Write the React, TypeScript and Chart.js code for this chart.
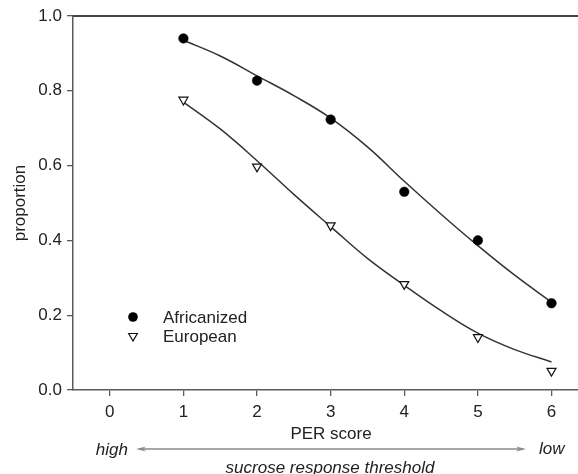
import React, { useEffect, useRef } from "react";
import { Chart, registerables } from "chart.js";

Chart.register(...registerables);

// ---- data ----
const perScores = [1, 2, 3, 4, 5, 6];
const africanized = [0.94, 0.827, 0.723, 0.53, 0.4, 0.232];
const european = [0.776, 0.597, 0.44, 0.283, 0.141, 0.051];

// fitted curves
const fitX = [1, 1.5, 2, 2.5, 3, 3.5, 4, 4.5, 5, 5.5, 6];
const africanizedFit = [0.935, 0.893, 0.84, 0.787, 0.727, 0.65, 0.558, 0.47, 0.386, 0.307, 0.235];
const europeanFit = [0.77, 0.698, 0.613, 0.523, 0.437, 0.352, 0.28, 0.212, 0.152, 0.108, 0.075];

const xTicks = [0, 1, 2, 3, 4, 5, 6];
const yTicks = [0, 0.2, 0.4, 0.6, 0.8, 1.0];
const seriesNames = ["Africanized", "European"];
const xTitle = "PER score";
const yTitle = "proportion";
const thresholdTitle = "sucrose response threshold";
const highLabel = "high";
const lowLabel = "low";

const FONT = "'Liberation Sans', Arial, Helvetica, sans-serif";
const TEXT = "#222";
const AXIS = "#5a5a5a";

function drawTriangleDown(ctx: CanvasRenderingContext2D, x: number, y: number, r: number) {
  ctx.beginPath();
  for (let i = 0; i < 3; i++) {
    const a = Math.PI + (i * 2 * Math.PI) / 3;
    const px = x + Math.sin(a) * r;
    const py = y - Math.cos(a) * r;
    if (i === 0) ctx.moveTo(px, py);
    else ctx.lineTo(px, py);
  }
  ctx.closePath();
  ctx.fillStyle = "#fff";
  ctx.fill();
  ctx.lineWidth = 1.2;
  ctx.strokeStyle = "#111";
  ctx.stroke();
}

const annotations = {
  id: "annotations",
  afterDraw(chart: any) {
    const ctx: CanvasRenderingContext2D = chart.ctx;
    const area = chart.chartArea;
    ctx.save();
    // top frame line
    ctx.strokeStyle = "#444";
    ctx.lineWidth = 2;
    ctx.beginPath();
    ctx.moveTo(area.left, area.top);
    ctx.lineTo(chart.width, area.top);
    ctx.stroke();

    ctx.fillStyle = TEXT;
    ctx.font = `17px ${FONT}`;
    // y title
    ctx.save();
    ctx.translate(20, 203);
    ctx.rotate(-Math.PI / 2);
    ctx.textAlign = "center";
    ctx.textBaseline = "middle";
    ctx.fillText(yTitle, 0, 0);
    ctx.restore();

    // x title
    ctx.textAlign = "center";
    ctx.textBaseline = "middle";
    ctx.fillText(xTitle, 331, 434);

    // high / low
    ctx.font = `italic 17px ${FONT}`;
    ctx.textAlign = "right";
    ctx.fillText(highLabel, 128, 450);
    ctx.textAlign = "left";
    ctx.fillText(lowLabel, 539, 449);

    // arrow
    ctx.strokeStyle = "#8a8a8a";
    ctx.fillStyle = "#8a8a8a";
    ctx.lineWidth = 1.3;
    const ay = 449;
    ctx.beginPath();
    ctx.moveTo(139, ay);
    ctx.lineTo(523, ay);
    ctx.stroke();
    ctx.beginPath();
    ctx.moveTo(136, ay);
    ctx.lineTo(146, ay - 2.5);
    ctx.lineTo(143, ay);
    ctx.lineTo(146, ay + 2.5);
    ctx.closePath();
    ctx.fill();
    ctx.beginPath();
    ctx.moveTo(526, ay);
    ctx.lineTo(516, ay - 2.5);
    ctx.lineTo(519, ay);
    ctx.lineTo(516, ay + 2.5);
    ctx.closePath();
    ctx.fill();

    // threshold title
    ctx.fillStyle = TEXT;
    ctx.textAlign = "center";
    ctx.textBaseline = "alphabetic";
    ctx.fillText(thresholdTitle, 330, 473);

    // legend
    ctx.font = `17px ${FONT}`;
    ctx.textAlign = "left";
    ctx.textBaseline = "middle";
    ctx.beginPath();
    ctx.arc(133, 317, 4.8, 0, Math.PI * 2);
    ctx.fillStyle = "#000";
    ctx.fill();
    drawTriangleDown(ctx, 133, 336, 5);
    ctx.fillStyle = TEXT;
    ctx.fillText(seriesNames[0], 163, 318);
    ctx.fillText(seriesNames[1], 163, 337);
    ctx.restore();
  },
};

export default function App() {
  const ref = useRef<HTMLCanvasElement | null>(null);
  useEffect(() => {
    if (!ref.current) return;
    const chart = new Chart(ref.current, {
      type: "scatter",
      data: {
        datasets: [
          {
            label: seriesNames[0],
            data: perScores.map((x, i) => ({ x, y: africanized[i] })),
            pointStyle: "circle",
            pointRadius: 4.8,
            backgroundColor: "#000",
            borderColor: "#000",
            borderWidth: 0.5,
            showLine: false,
          },
          {
            label: seriesNames[1],
            data: perScores.map((x, i) => ({ x, y: european[i] })),
            pointStyle: "triangle",
            pointRotation: 180,
            pointRadius: 5.2,
            backgroundColor: "#fff",
            borderColor: "#111",
            borderWidth: 1.2,
            showLine: false,
          },
          {
            label: "fitA",
            data: fitX.map((x, i) => ({ x, y: africanizedFit[i] })),
            showLine: true,
            pointRadius: 0,
            borderColor: "#333",
            borderWidth: 1.5,
            tension: 0.4,
          },
          {
            label: "fitE",
            data: fitX.map((x, i) => ({ x, y: europeanFit[i] })),
            showLine: true,
            pointRadius: 0,
            borderColor: "#333",
            borderWidth: 1.5,
            tension: 0.4,
          },
        ],
      },
      options: {
        animation: false,
        responsive: false,
        devicePixelRatio: 1,
        layout: { autoPadding: false, padding: { top: 16, right: 0, left: 0, bottom: 0 } },
        plugins: { legend: { display: false }, tooltip: { enabled: false } },
        scales: {
          x: {
            type: "linear",
            min: -0.5,
            max: 6.36,
            afterBuildTicks: (s: any) => {
              s.ticks = xTicks.map((v) => ({ value: v }));
            },
            afterFit: (s: any) => {
              s.height = 84;
              s.paddingRight = 0;
              s.paddingLeft = 0;
            },
            grid: {
              drawOnChartArea: false,
              drawTicks: true,
              tickLength: 6,
              color: AXIS,
              lineWidth: 1.3,
            },
            border: { display: true, color: AXIS, width: 1.5 },
            ticks: {
              color: TEXT,
              font: { family: FONT, size: 17 },
              padding: 6,
              maxRotation: 0,
              autoSkip: false,
            },
          },
          y: {
            type: "linear",
            min: 0,
            max: 1,
            afterBuildTicks: (s: any) => {
              s.ticks = yTicks.map((v) => ({ value: v }));
            },
            afterFit: (s: any) => {
              s.width = 73;
            },
            grid: {
              drawOnChartArea: false,
              drawTicks: true,
              tickLength: 6,
              color: AXIS,
              lineWidth: 1.3,
            },
            border: { display: true, color: AXIS, width: 1.5 },
            ticks: {
              color: TEXT,
              font: { family: FONT, size: 17 },
              padding: 5,
              autoSkip: false,
              callback: (v: any) => Number(v).toFixed(1),
            },
          },
        },
      },
      plugins: [annotations],
    } as any);
    return () => chart.destroy();
  }, []);
  return (
    <div style={{ position: "absolute", left: 0, top: 0, width: 578, height: 474, background: "#fff" }}>
      <canvas ref={ref} width={578} height={474} style={{ display: "block", width: 578, height: 474 }} />
    </div>
  );
}
